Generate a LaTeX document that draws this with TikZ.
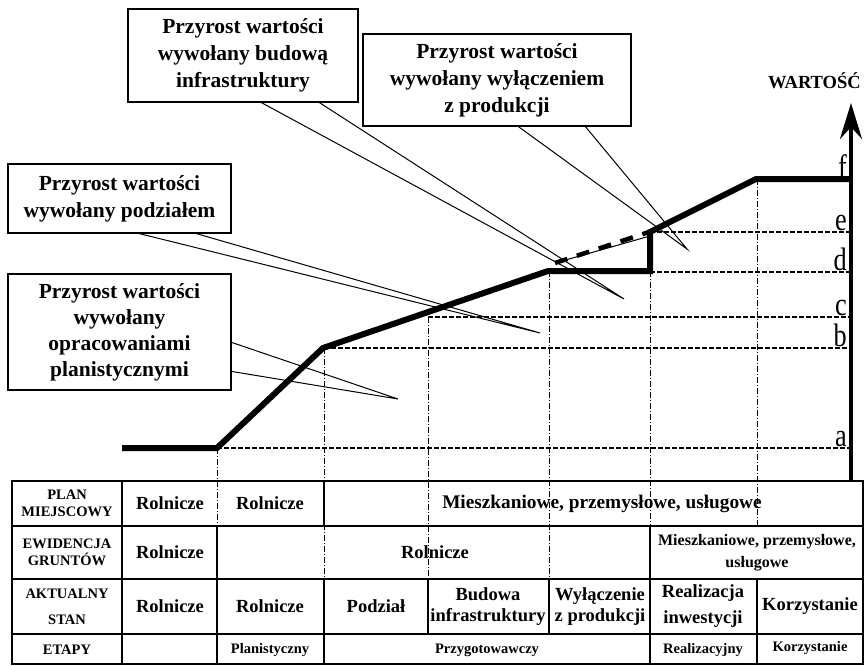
\documentclass[tikz,border=0pt]{standalone}
\usepackage{fontspec}
\setmainfont{Liberation Serif}
\usetikzlibrary{arrows.meta}
\newcommand{\fsz}[2]{\fontsize{#1}{#2}\selectfont}
\newcommand{\lvl}[1]{\scalebox{1.05}[1.3]{#1}}

\begin{document}
\begin{tikzpicture}[x=1pt,y=-1pt,
			boxlabel/.style={draw,line width=1.2pt,align=center,inner sep=0pt,font=\bfseries\fsz{21.5}{27}},
			pointer/.style={line width=1pt},
			curve/.style={line width=6pt},
			level/.style={line width=1.4pt,dash pattern=on 5pt off 2pt},
			guide/.style={line width=0.8pt,dash pattern=on 6pt off 2pt on 1pt off 2pt},
			grid/.style={line width=2pt},
			cell/.style={align=center,inner sep=0pt,font=\bfseries\fsz{18.5}{21}},
			head/.style={align=center,inner sep=0pt,font=\bfseries\fsz{14.5}{16.5}},
			small/.style={inner sep=0pt,font=\bfseries\fsz{14.5}{17}},
			levellabel/.style={anchor=base east,inner sep=0pt,font=\fsz{25}{25}}]
			\useasboundingbox (0,0) rectangle (868,665);
			\node[boxlabel,minimum width=230pt,minimum height=93pt] (bInfra) at (243,55.5) {Przyrost wartości\\wywołany budową\\infrastruktury};
			\node[boxlabel,minimum width=268pt,minimum height=92pt] (bProd) at (497,80) {Przyrost wartości\\wywołany wyłączeniem\\z produkcji};
			\node[boxlabel,minimum width=223pt,minimum height=69pt] (bPodz) at (119.5,198.5) {Przyrost wartości\\wywołany podziałem};
			\node[boxlabel,minimum width=223pt,minimum height=116pt,font=\bfseries\fsz{21.5}{26}] (bPlan) at (119.5,332) {Przyrost wartości\\wywołany\\opracowaniami\\planistycznymi};
			\coordinate (tInfra) at (624,299);
			\coordinate (tProd) at (687,249);
			\coordinate (tPodz) at (540,333);
			\coordinate (tPlan) at (398,399);
			\draw[pointer] ([xshift=134pt]bInfra.south west) -- (tInfra) -- ([xshift=192pt]bInfra.south west);
			\draw[pointer] ([xshift=156pt]bProd.south west) -- (tProd) -- ([xshift=223pt]bProd.south west);
			\draw[pointer] ([xshift=132pt]bPodz.south west) -- (tPodz) -- ([xshift=189pt]bPodz.south west);
			\draw[pointer] ([yshift=-69pt]bPlan.north east) -- (tPlan) -- ([yshift=-98pt]bPlan.north east);
			\foreach \x/\top/\bot in {217/448/526,324/348/579,428/317/579,549/271/579,650/271/526,757/179/526}
				\draw[guide] (\x,\top) -- (\x,\bot);
			\foreach \y/\x/\l in {448/217/a,348/324/b,317/428/c,272/650/d,232/650/e}
				{
				\draw[level] (\x,\y) -- (851,\y);
				\node[levellabel] (lv\l) at (847,\y-2) {\lvl{\l}};
				}
			\node[levellabel] (lvf) at (847,177) {\lvl{f}};
			\coordinate (v0) at (122,448);
			\coordinate (v1) at (217,448);
			\coordinate (v2) at (323,348);
			\coordinate (v3) at (548,271);
			\coordinate (v4) at (650,271);
			\coordinate (v5) at (650,232);
			\coordinate (v6) at (756,179);
			\coordinate (v7) at (851,179);
			\draw[curve] (v0) -- (v1) -- (v2) -- (v3) -- (v4) -- (v5) -- (v6) -- (v7);
			\coordinate (dA) at (555,263);
			\coordinate (dB) at (649,232);
			\coordinate (dC) at (650,236);
			\draw[line width=4.5pt,dash pattern=on 13pt off 10pt] (dA) -- (dB);
			\draw[pointer] (dA) -- (dC);
			\coordinate (origin) at (851,481);
			\coordinate (peak) at (851,103);
			\draw[line width=4pt,-{Stealth[length=36pt,width=22pt,inset=12pt]}] (origin) -- (peak);
			\node[anchor=base west,inner sep=0pt,font=\bfseries\fsz{18.5}{20}] (axislabel) at (768,88) {WARTOŚĆ};
			\draw[grid] (12,481) rectangle (863,664);
			\foreach \y in {526,579,634}
				\draw[grid] (12,\y) -- (863,\y);
			\foreach \x in {122,324}
				\draw[grid] (\x,481) -- (\x,526);
			\foreach \x in {122,217,650}
				\draw[grid] (\x,526) -- (\x,579);
			\foreach \x in {122,217,324,428,549,650,757}
				\draw[grid] (\x,579) -- (\x,634);
			\foreach \x in {122,217,324,650,757}
				\draw[grid] (\x,634) -- (\x,664);
			\node[head] (hPlan) at (67,503.5) {PLAN\\MIEJSCOWY};
			\node[cell] (p1) at (170,503.5) {Rolnicze};
			\node[cell] (p2) at (270,503.5) {Rolnicze};
			\node[cell,font=\bfseries\fsz{19.3}{21}] (p3) at (602,503.5) {Mieszkaniowe, przemysłowe, usługowe};
			\node[head] (hEwid) at (67,552.5) {EWIDENCJA\\GRUNTÓW};
			\node[cell] (e1) at (170,552.5) {Rolnicze};
			\node[cell] (e2) at (435,552.5) {Rolnicze};
			\node[cell,font=\bfseries\fsz{16}{22}] (e3) at (757,552.5) {Mieszkaniowe, przemysłowe,\\usługowe};
			\node[head,font=\bfseries\fsz{14.5}{26}] (hStan) at (67,606.5) {AKTUALNY\\STAN};
			\node[cell] (s1) at (170,606.5) {Rolnicze};
			\node[cell] (s2) at (270,606.5) {Rolnicze};
			\node[cell] (s3) at (376,606.5) {Podział};
			\node[cell] (s4) at (488,606.5) {Budowa\\infrastruktury};
			\node[cell] (s5) at (600,606.5) {Wyłączenie\\z produkcji};
			\node[cell,font=\bfseries\fsz{18.5}{26}] (s6) at (703,606.5) {Realizacja\\inwestycji};
			\node[cell] (s7) at (810,606.5) {Korzystanie};
			\node[small] (hEtap) at (67,650) {ETAPY};
			\node[small] (t1) at (270,650) {Planistyczny};
			\node[small] (t2) at (487,650) {Przygotowawczy};
			\node[small] (t3) at (703,650) {Realizacyjny};
			\node[small] (t4) at (810,648) {Korzystanie};
		\end{tikzpicture}
\end{document}
